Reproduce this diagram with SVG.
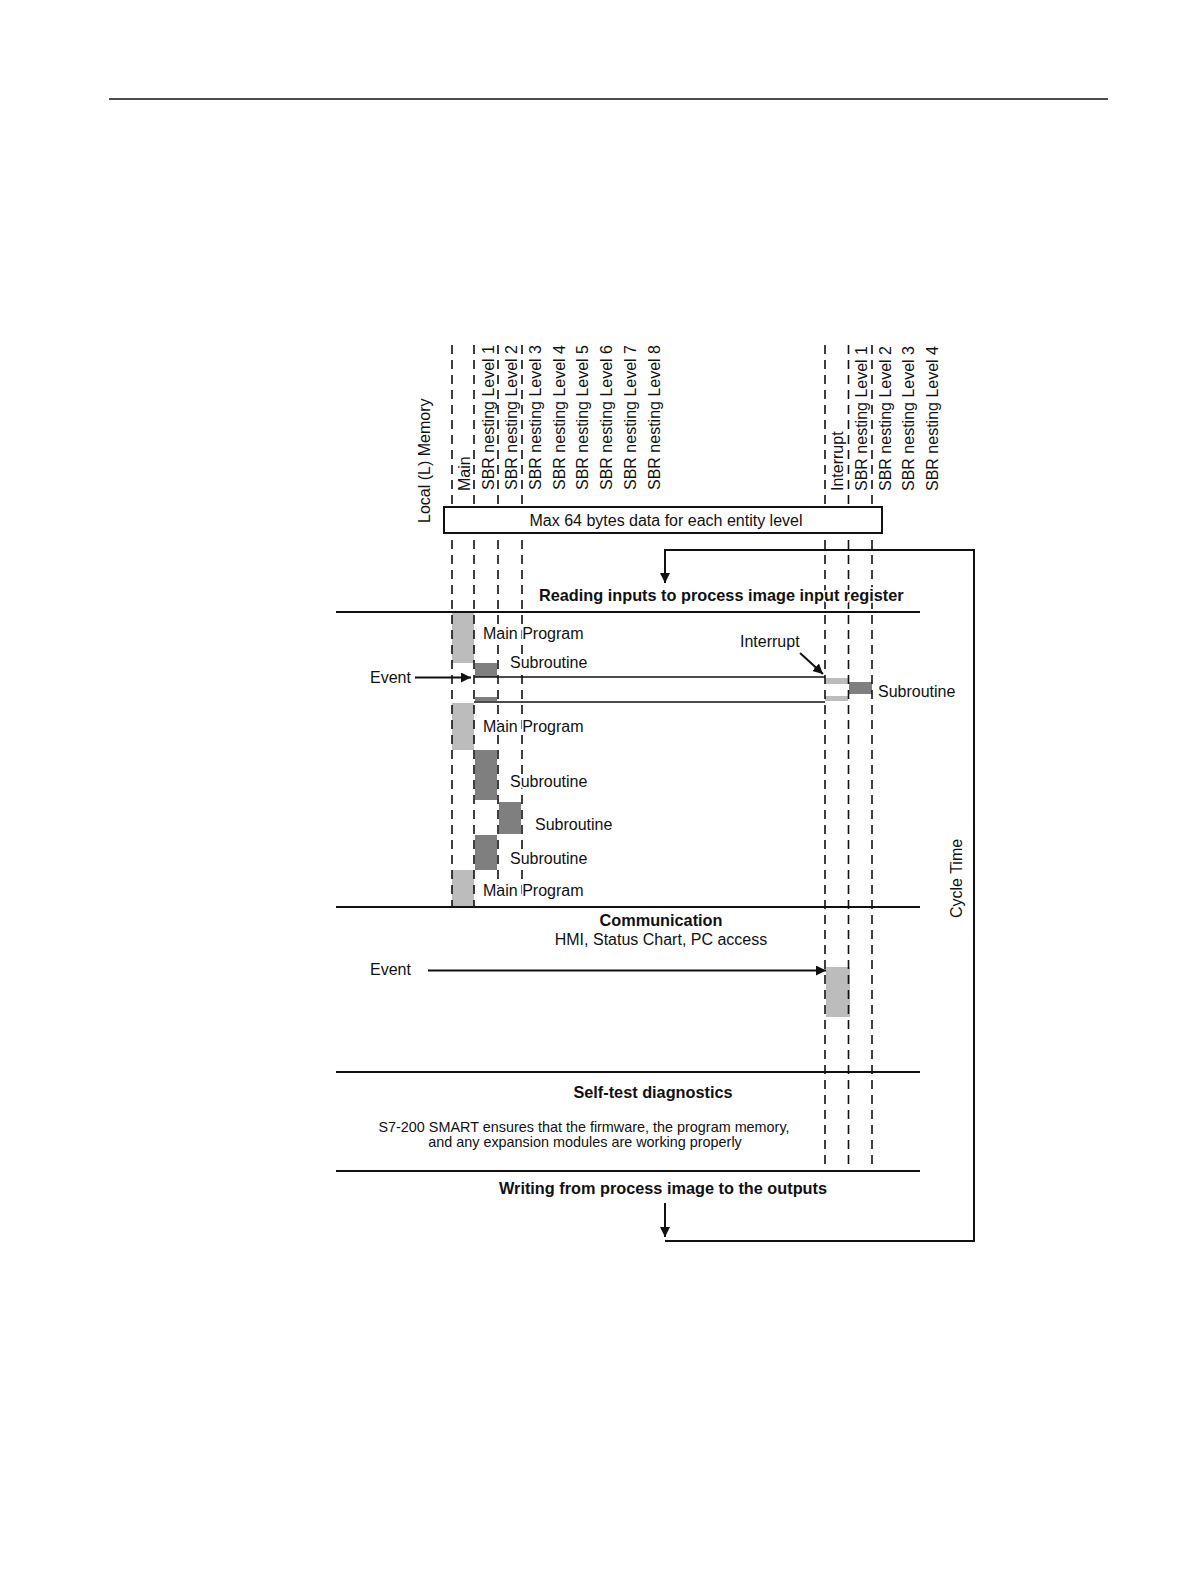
<svg xmlns="http://www.w3.org/2000/svg" width="1191" height="1587" viewBox="0 0 1191 1587">
<style>
  text { font-family: "Liberation Sans", Arial, sans-serif; fill: #111; }
  .halo { stroke: #fff; stroke-width: 3.5; stroke-linejoin: round; paint-order: stroke fill; }
  .t16 { font-size: 16px; }
  .b16 { font-size: 16.3px; font-weight: bold; }
  .t14 { font-size: 14.4px; }
  .mid { text-anchor: middle; }
  .dash { stroke: #111; stroke-width: 1.6; stroke-dasharray: 9 6; fill: none; }
  .rule { stroke: #111; stroke-width: 2; fill: none; }
  .thin { stroke: #111; stroke-width: 1.5; fill: none; }
  .light { fill: #bcbcbc; }
  .dark { fill: #7f7f7f; }
  .conn { stroke: #111; stroke-width: 2; fill: none; }
</style>
<defs>
  <marker id="ah" viewBox="0 0 10 10" refX="10" refY="5" markerWidth="10" markerHeight="10" markerUnits="userSpaceOnUse" orient="auto">
    <path d="M0,0 L10,5 L0,10 z" fill="#111"/>
  </marker>
</defs>
<rect width="1191" height="1587" fill="#fff"/>
<line x1="109" y1="99" x2="1108" y2="99" stroke="#111" stroke-width="1.3"/>

<g id="column-labels">
  <text class="t16" transform="translate(430,523) rotate(-90)">Local (L) Memory</text>
  <text class="t16" transform="translate(469.5,491) rotate(-90)">Main</text>
  <text class="t16" transform="translate(493.5,490) rotate(-90)">SBR nesting Level 1</text>
  <text class="t16" transform="translate(517,490) rotate(-90)">SBR nesting Level 2</text>
  <text class="t16" transform="translate(540.5,490) rotate(-90)">SBR nesting Level 3</text>
  <text class="t16" transform="translate(564.5,490) rotate(-90)">SBR nesting Level 4</text>
  <text class="t16" transform="translate(588,490) rotate(-90)">SBR nesting Level 5</text>
  <text class="t16" transform="translate(612,490) rotate(-90)">SBR nesting Level 6</text>
  <text class="t16" transform="translate(636,490) rotate(-90)">SBR nesting Level 7</text>
  <text class="t16" transform="translate(660,490) rotate(-90)">SBR nesting Level 8</text>
  <text class="t16" transform="translate(843,491) rotate(-90)">Interrupt</text>
  <text class="t16" transform="translate(867,491) rotate(-90)">SBR nesting Level 1</text>
  <text class="t16" transform="translate(890.5,491) rotate(-90)">SBR nesting Level 2</text>
  <text class="t16" transform="translate(914,491) rotate(-90)">SBR nesting Level 3</text>
  <text class="t16" transform="translate(938,491) rotate(-90)">SBR nesting Level 4</text>
</g>

<g id="blocks">
  <rect class="light" x="452" y="613" width="22" height="50"/>
  <rect class="dark" x="475" y="663" width="22" height="14"/>
  <rect class="dark" x="475" y="697" width="22" height="4"/>
  <rect class="light" x="452" y="703" width="22" height="47"/>
  <rect class="dark" x="475" y="750" width="22" height="50"/>
  <rect class="dark" x="499" y="802" width="22" height="32"/>
  <rect class="dark" x="475" y="835" width="22" height="35"/>
  <rect class="light" x="452" y="870" width="22" height="36"/>
  <rect class="light" x="825" y="678" width="23" height="6"/>
  <rect class="dark" x="849" y="682" width="23" height="12"/>
  <rect class="light" x="825" y="696" width="23" height="5"/>
  <rect class="light" x="826" y="967" width="24" height="50"/>
</g>

<g id="lifelines">
  <line class="dash" x1="452" y1="345" x2="452" y2="906"/>
  <line class="dash" x1="474" y1="345" x2="474" y2="906"/>
  <line class="dash" x1="498" y1="345" x2="498" y2="900"/>
  <line class="dash" x1="522" y1="345" x2="522" y2="900"/>
  <line class="dash" x1="825" y1="345" x2="825" y2="1167"/>
  <line class="dash" x1="848.5" y1="345" x2="848.5" y2="1167"/>
  <line class="dash" x1="872" y1="345" x2="872" y2="1167"/>
</g>

<g id="memory-box">
  <rect x="444" y="507" width="438" height="26" fill="#fff" stroke="#111" stroke-width="2"/>
  <text class="t16 mid" x="666" y="526">Max 64 bytes data for each entity level</text>
</g>

<g id="section-reading">
  <text class="b16 halo" x="539" y="601">Reading inputs to process image input register</text>
  <line class="rule" x1="336" y1="612" x2="920" y2="612"/>
</g>

<g id="section-program">
  <text class="t16 halo" x="483" y="639">Main Program</text>
  <text class="t16 halo" x="510" y="668">Subroutine</text>
  <text class="t16 halo" x="370" y="683">Event</text>
  <text class="t16 halo" x="740" y="647">Interrupt</text>
  <text class="t16 halo" x="878" y="697">Subroutine</text>
  <text class="t16 halo" x="483" y="732">Main Program</text>
  <text class="t16 halo" x="510" y="787">Subroutine</text>
  <text class="t16 halo" x="535" y="830">Subroutine</text>
  <text class="t16 halo" x="510" y="864">Subroutine</text>
  <text class="t16 halo" x="483" y="896">Main Program</text>
  <line class="rule" x1="336" y1="907" x2="920" y2="907"/>
</g>

<g id="section-communication">
  <text class="b16 mid" x="661" y="926">Communication</text>
  <text class="t16 mid" x="661" y="945">HMI, Status Chart, PC access</text>
  <text class="t16" x="370" y="975">Event</text>
  <line class="rule" x1="336" y1="1072" x2="920" y2="1072"/>
</g>

<g id="section-selftest">
  <text class="b16 mid" x="653" y="1098">Self-test diagnostics</text>
  <text class="t14 mid" x="584" y="1131.5">S7-200 SMART ensures that the firmware, the program memory,</text>
  <text class="t14 mid" x="585" y="1146.5">and any expansion modules are working properly</text>
  <line class="rule" x1="336" y1="1171" x2="920" y2="1171"/>
</g>

<g id="section-writing">
  <text class="b16 mid" x="663" y="1194">Writing from process image to the outputs</text>
</g>

<g id="cycle-time">
  <text class="t16" transform="translate(962,918) rotate(-90)">Cycle Time</text>
</g>

<g id="connectors">
  <line class="thin" x1="474" y1="677" x2="825" y2="677"/>
  <line class="thin" x1="474" y1="702" x2="825" y2="702"/>
  <line class="conn" x1="415" y1="677.5" x2="471" y2="677.5" marker-end="url(#ah)"/>
  <line class="conn" x1="800" y1="653" x2="823" y2="674" marker-end="url(#ah)"/>
  <line class="conn" x1="428" y1="970.5" x2="826" y2="970.5" marker-end="url(#ah)"/>
  <polyline class="conn" points="665,1241 974,1241 974,550 665,550 665,583" marker-end="url(#ah)"/>
  <line class="conn" x1="665" y1="1203" x2="665" y2="1237" marker-end="url(#ah)"/>
</g>
</svg>
